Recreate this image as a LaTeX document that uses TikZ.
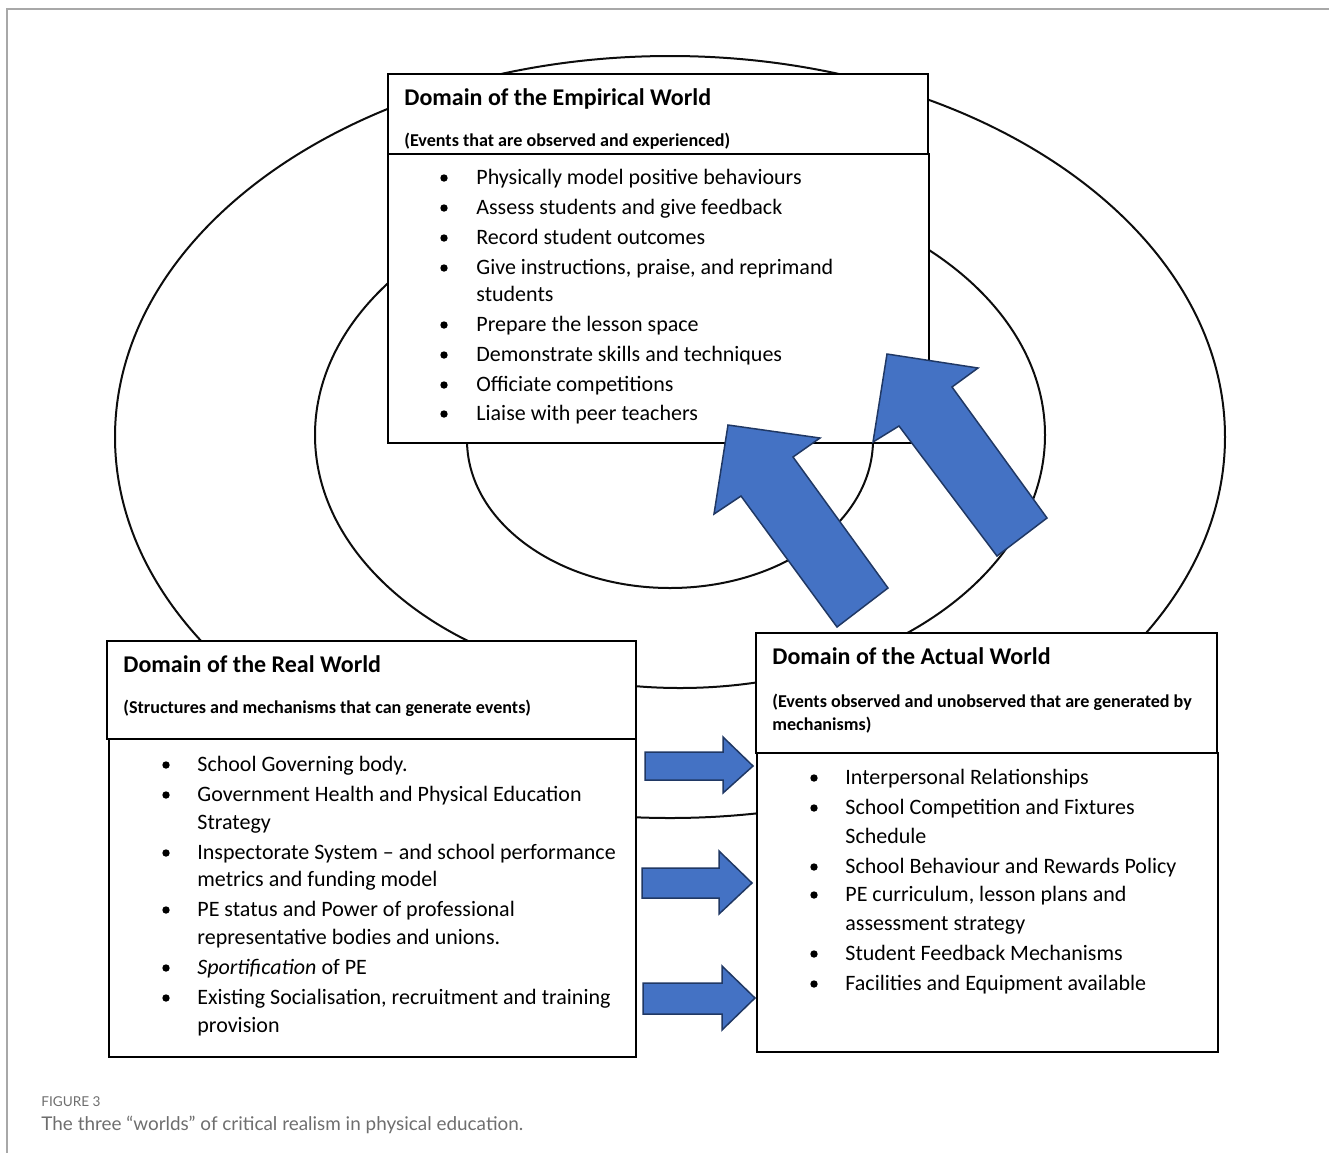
\documentclass[tikz,border=0pt]{standalone}
\usepackage{fontspec}
\setmainfont{Carlito}
\newfontfamily\capfont{Lato}
\usetikzlibrary{fit}
\definecolor{arrowblue}{HTML}{4472C4}
\definecolor{arrowedge}{HTML}{203864}
\definecolor{framegray}{HTML}{A8A8A8}
\definecolor{capgray}{HTML}{6E6E6E}

% one list line: name, x, y of the line centre, text
\newcommand\listline[4]{\node[itm] (#1) at (#2,#3+6) {#4};}
% one bulleted line: name, bullet x, text x, y of the line centre, text
\newcommand\listitem[5]{%
  \node[dot] (#1b) at (#2,#4) {};
  \node[itm] (#1) at (#3,#4+6) {#5};}

\begin{document}
\begin{tikzpicture}[x=0.5pt,y=-0.5pt,
  ring/.style={line width=1pt, draw=black!95},
  boxframe/.style={draw=black, line width=1.3pt, fill=white, inner sep=0pt},
  ttl/.style={anchor=base west, inner sep=0pt, font=\bfseries\fontsize{12}{14}\selectfont},
  sub/.style={anchor=base west, inner sep=0pt, font=\bfseries\fontsize{9.05}{11}\selectfont},
  itm/.style={anchor=base west, inner sep=0pt, font=\fontsize{11}{13}\selectfont},
  dot/.style={circle, fill=black, inner sep=0pt, minimum size=3.7pt},
  blockarrow/.style={fill=arrowblue, draw=arrowedge, line width=0.75pt, line join=miter},
  caption/.style={anchor=base west, inner sep=0pt, text=capgray},
]
\useasboundingbox (0,0) rectangle (1329,1153);

% page frame
\draw[framegray, line width=0.8pt] (1329,9) -- (7,9) -- (7,1153);

% the three nested worlds
\draw[ring] (670,437) ellipse [x radius=555, y radius=381];
\draw[ring] (680,435) ellipse [x radius=365, y radius=253];
\draw[ring] (670,440) ellipse [x radius=203, y radius=148];

% Domain of the Empirical World
\node[boxframe, fit={(388,154)(929,443)}] (empbody) {};
\node[boxframe, fit={(388,74)(928,154)}] (emphead) {};
\node[ttl] (emptitle) at (404,105) {Domain of the Empirical World};
\node[sub] (empsub) at (404,146) {(Events that are observed and experienced)};
\listitem{e1}{444}{476}{178}{Physically model positive behaviours}
\listitem{e2}{444}{476}{208}{Assess students and give feedback}
\listitem{e3}{444}{476}{238}{Record student outcomes}
\listitem{e4}{444}{476}{268}{Give instructions, praise, and reprimand}
\listline{e4c}{476}{295}{students}
\listitem{e5}{444}{476}{325}{Prepare the lesson space}
\listitem{e6}{444}{476}{355}{Demonstrate skills and techniques}
\listitem{e7}{444}{476}{385}{Officiate competitions}
\listitem{e8}{444}{476}{414}{Liaise with peer teachers}

% Domain of the Real World
\node[boxframe, fit={(109,739)(636,1057)}] (realbody) {};
\node[boxframe, fit={(107,641)(636,739)}] (realhead) {};
\node[ttl] (realtitle) at (123,672) {Domain of the Real World};
\node[sub] (realsub) at (123,713) {(Structures and mechanisms that can generate events)};
\listitem{r1}{166}{197}{765}{School Governing body.}
\listitem{r2}{166}{197}{795}{Government Health and Physical Education}
\listline{r2c}{197}{823}{Strategy}
\listitem{r3}{166}{197}{853}{Inspectorate System -- and school performance}
\listline{r3c}{197}{880}{metrics and funding model}
\listitem{r4}{166}{197}{910}{PE status and Power of professional}
\listline{r4c}{197}{938}{representative bodies and unions.}
\listitem{r5}{166}{197}{968}{\textit{Sportification} of PE}
\listitem{r6}{166}{197}{998}{Existing Socialisation, recruitment and training}
\listline{r6c}{197}{1026}{provision}

% Domain of the Actual World
\node[boxframe, fit={(757,753)(1218,1052)}] (actbody) {};
\node[boxframe, fit={(756,633)(1217,753)}] (acthead) {};
\node[ttl] (acttitle) at (772,664) {Domain of the Actual World};
\node[sub] (actsub) at (772,707) {(Events observed and unobserved that are generated by};
\node[sub] (actsubc) at (772,730) {mechanisms)};
\listitem{a1}{814}{845}{778}{Interpersonal Relationships}
\listitem{a2}{814}{845}{808}{School Competition and Fixtures}
\listline{a2c}{845}{837}{Schedule}
\listitem{a3}{814}{845}{867}{School Behaviour and Rewards Policy}
\listitem{a4}{814}{845}{895}{PE curriculum, lesson plans and}
\listline{a4c}{845}{924}{assessment strategy}
\listitem{a5}{814}{845}{954}{Student Feedback Mechanisms}
\listitem{a6}{814}{845}{984}{Facilities and Equipment available}

% generative arrows: real -> actual
\draw[blockarrow] (645,752) -- (723,752) -- (723,737) -- (753,766) -- (723,793) -- (723,780) -- (645,780) -- cycle;
\draw[blockarrow] (642,868) -- (719,868) -- (719,851) -- (752,883) -- (719,914) -- (719,898) -- (642,898) -- cycle;
\draw[blockarrow] (643,983) -- (722,983) -- (722,966) -- (755,998) -- (722,1030) -- (722,1014) -- (643,1014) -- cycle;

% actual -> empirical
\draw[blockarrow] (728,425) -- (820,438) -- (793,457) -- (888,588) -- (837,627) -- (741,496) -- (714,514) -- cycle;
\draw[blockarrow] (887,354) -- (978,368) -- (952,387) -- (1047,518) -- (997,556) -- (899,426) -- (873,442) -- cycle;

% caption
\node[caption, font=\capfont\fontsize{6.8}{8}\selectfont] (figlabel) at (41,1106) {FIGURE 3};
\node[caption, font=\capfont\fontsize{9.45}{11}\selectfont] (figcaption) at (41,1130) {The three “worlds” of critical realism in physical education.};
\end{tikzpicture}
\end{document}
